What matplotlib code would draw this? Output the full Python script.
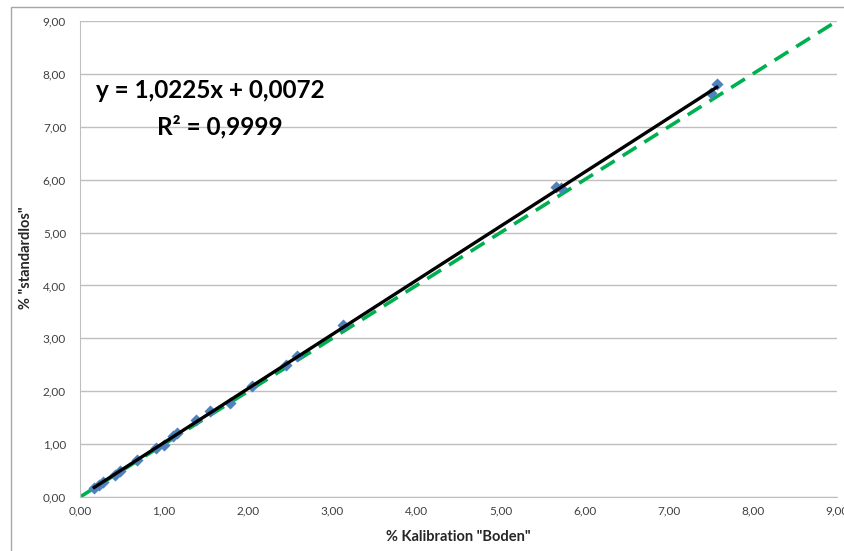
"""Calibration scatter: standardlos vs. Kalibration Boden."""

import matplotlib

matplotlib.use("Agg")
import matplotlib.pyplot as plt
from matplotlib.patches import Rectangle
from matplotlib.ticker import FuncFormatter, MultipleLocator

kalibration_boden = [0.17, 0.22, 0.27, 0.42, 0.47, 0.68, 0.90, 1.00, 1.10, 1.15,
                     1.38, 1.55, 1.78, 2.05, 2.45, 2.58, 3.13, 5.66, 5.72, 7.50, 7.57]
standardlos = [0.17, 0.22, 0.29, 0.41, 0.50, 0.70, 0.93, 0.98, 1.15, 1.21,
               1.46, 1.63, 1.78, 2.10, 2.50, 2.67, 3.25, 5.86, 5.84, 7.64, 7.81]

slope = 1.0225
intercept = 0.0072
r_squared = 0.9999

identity = [0.0, 9.0]
axis_max = 9.0

BLUE = "#4F81BD"
GREEN = "#00B050"
GRID = "#BFBFBF"
TICK_COLOR = "#404040"


def comma(v, _pos=None, digits=2):
    return f"{v:.{digits}f}".replace(".", ",")


fig = plt.figure(figsize=(8.45, 5.51), dpi=100)
ax = fig.add_axes([80 / 845, 1 - 497 / 551, 757 / 845, 476 / 551])

# chart frame around the whole area
fig.patches.append(Rectangle((11 / 845, -0.1), 1.2, 1 - 7 / 551 + 0.1,
                             transform=fig.transFigure, fill=False,
                             edgecolor="#A6A6A6", linewidth=1.0))

ax.plot(identity, identity, color=GREEN, linewidth=2.6,
        dashes=(4.5, 2.6), zorder=2)
ax.scatter(kalibration_boden, standardlos, marker="D", s=38, color=BLUE,
           linewidths=0, zorder=3)
x_fit = [min(kalibration_boden), max(kalibration_boden)]
ax.plot(x_fit, [slope * x + intercept for x in x_fit], color="black",
        linewidth=2.4, zorder=4)

ax.set_xlim(0, axis_max)
ax.set_ylim(0, axis_max)
ax.xaxis.set_major_locator(MultipleLocator(1))
ax.yaxis.set_major_locator(MultipleLocator(1))
ax.xaxis.set_major_formatter(FuncFormatter(comma))
ax.yaxis.set_major_formatter(FuncFormatter(comma))
ax.grid(axis="y", color=GRID, linewidth=1.0)
ax.set_axisbelow(True)
for side in ("top", "right"):
    ax.spines[side].set_visible(False)
for side in ("left", "bottom"):
    ax.spines[side].set_color(GRID)
ax.tick_params(length=0, labelsize=8.5, labelcolor=TICK_COLOR)
ax.tick_params(axis="x", pad=6)
ax.tick_params(axis="y", pad=10)

for lab in ax.get_xticklabels() + ax.get_yticklabels():
    lab.set_family("Lato")

ax.set_xlabel('% Kalibration "Boden"', fontsize=10.5, fontweight="bold",
              family="Lato", color="#262626")
ax.set_ylabel('% "standardlos"', fontsize=10.5, fontweight="bold",
              family="Lato", color="#262626")
ax.xaxis.set_label_coords(0.5 + (458 - 458.5) / 757, -33 / 476)
ax.yaxis.set_label_coords(-47 / 757, 0.5 + (259 - 258) / 476)

ax.text(1.55, 7.68, f"y = {comma(slope, digits=4)}x + {comma(intercept, digits=4)}",
        ha="center", va="center", fontsize=17.5, fontweight="bold",
        family="Lato", color="black")
ax.text(1.66, 7.0, f"R² = {comma(r_squared, digits=4)}",
        ha="center", va="center", fontsize=17.5, fontweight="bold",
        family="Lato", color="black")

fig.savefig("out.png", dpi=100)
